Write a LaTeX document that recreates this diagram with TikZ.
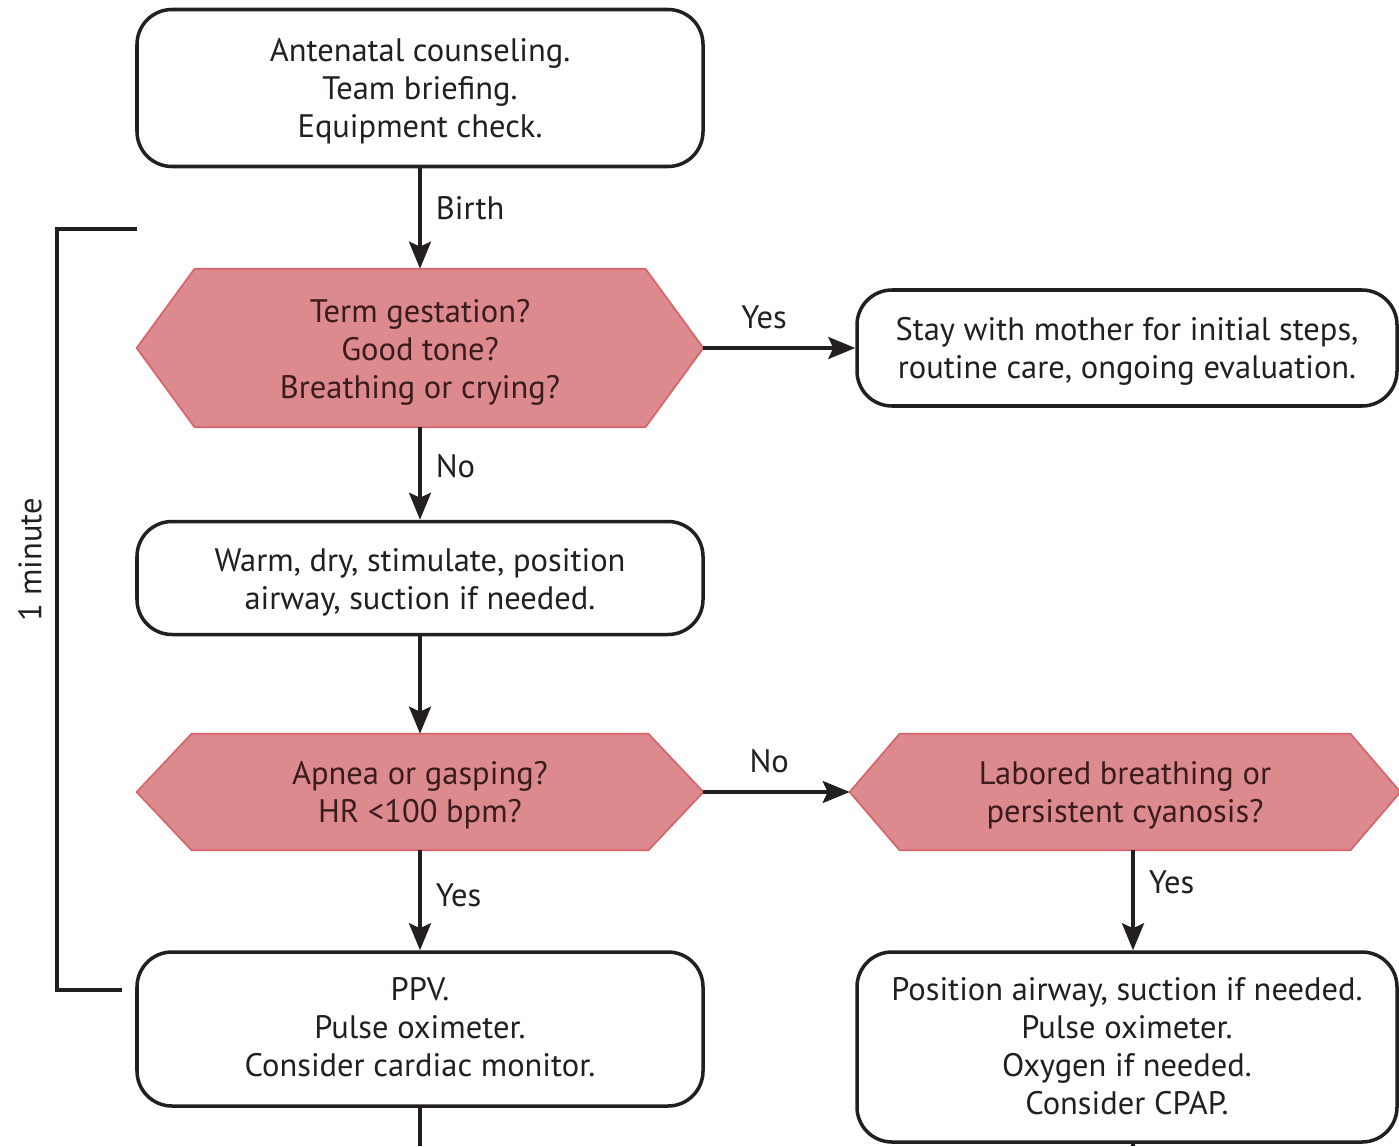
\documentclass[tikz,border=0pt]{standalone}
\usepackage{fontspec}
\setmainfont{PT Sans}
\usetikzlibrary{arrows.meta,calc,backgrounds}
\definecolor{hexfill}{HTML}{DC8A8E}
\definecolor{hexline}{HTML}{D4666C}
\definecolor{hextext}{HTML}{3A1C1E}
\definecolor{ink}{HTML}{231F20}
\newcommand{\lowtext}[2][0.07cm]{\raisebox{-#1}[\height][\depth]{\begin{tabular}{@{}c@{}}#2\end{tabular}}}
\tikzset{
  box/.style={draw=ink, line width=2pt, rounded corners=0.7cm, inner sep=0pt, text=ink, font=\fontsize{18.5}{21.6}\selectfont},
  hexnode/.style={inner sep=0pt, text=hextext, font=\fontsize{18.5}{21.6}\selectfont},
  hexshape/.style={fill=hexfill, draw=hexline, line width=1pt},
  conn/.style={draw=ink, line width=2pt, -{Stealth[length=0.54cm,width=0.44cm,inset=0.1cm]}},
  plain/.style={draw=ink, line width=2pt},
  lbl/.style={text=ink, font=\fontsize{18.5}{21.6}\selectfont, inner sep=0pt}
}
\newcommand{\hexdraw}[2]{%
  \begin{scope}[on background layer]
    \path[hexshape] (#1.west) -- ($(#1.north west)+(#2,0)$) -- ($(#1.north east)+(-#2,0)$) -- (#1.east) -- ($(#1.south east)+(-#2,0)$) -- ($(#1.south west)+(#2,0)$) -- cycle;
  \end{scope}}
\begin{document}
\begin{tikzpicture}[x=0.02cm,y=-0.02cm]
\useasboundingbox (0,0) rectangle (1399,1146);
\begin{scope}[on background layer]
\fill[white] (0,0) rectangle (1399,1146);
\end{scope}

\node[box, minimum width=566*0.02cm, minimum height=157*0.02cm] (b1) at (420,88) {\lowtext{Antenatal counseling.\\Team briefing.\\Equipment check.}};

\node[hexnode, minimum width=566*0.02cm, minimum height=158*0.02cm] (h1) at (420,348) {\lowtext[0.1cm]{Term gestation?\\Good tone?\\Breathing or crying?}};
\hexdraw{h1}{58}

\node[box, minimum width=540*0.02cm, minimum height=116*0.02cm] (b2) at (1127,348) {\lowtext{Stay with mother for initial steps,\\routine care, ongoing evaluation.}};

\node[box, minimum width=566*0.02cm, minimum height=113*0.02cm] (b3) at (420,578) {\lowtext[0.09cm]{Warm, dry, stimulate, position\\airway, suction if needed.}};

\node[hexnode, minimum width=566*0.02cm, minimum height=116*0.02cm] (h2) at (420,792) {\lowtext{Apnea or gasping?\\HR <100 bpm?}};
\hexdraw{h2}{55}

\node[hexnode, minimum width=550*0.02cm, minimum height=116*0.02cm] (h3) at (1125,792) {\lowtext{Labored breathing or\\persistent cyanosis?}};
\hexdraw{h3}{50}

\node[box, minimum width=566*0.02cm, minimum height=154*0.02cm] (b4) at (420,1029) {\lowtext[0.04cm]{PPV.\\Pulse oximeter.\\Consider cardiac monitor.}};

\node[box, minimum width=540*0.02cm, minimum height=190*0.02cm] (b5) at (1127,1047) {\lowtext[0.06cm]{Position airway, suction if needed.\\Pulse oximeter.\\Oxygen if needed.\\Consider CPAP.}};

% connectors
\draw[conn] (b1.south) -- (h1.north) node[lbl, pos=0.4, right=8pt] (lbirth) {Birth};
\draw[conn] (h1.east) -- (b2.west) node[lbl, pos=0.4, above=10pt] (lyes1) {Yes};
\draw[conn] (h1.south) -- (b3.north) node[lbl, pos=0.42, right=8pt] (lno1) {No};
\draw[conn] (b3.south) -- (h2.north);
\draw[conn] (h2.east) -- (h3.west) node[lbl, pos=0.45, above=10pt] (lno2) {No};
\draw[conn] (h2.south) -- (b4.north) node[lbl, pos=0.45, right=8pt] (lyes2) {Yes};
\draw[conn] (h3.south -| 1133,0) -- (b5.north -| 1133,0) node[lbl, pos=0.32, right=8pt] (lyes3) {Yes};

\coordinate (e1) at (420,1146);
\coordinate (e2) at (1133,1146);
\draw[plain] (b4.south) -- (e1);
\draw[plain] (b5.south -| e2) -- (e2);

% bracket
\coordinate (brA) at (137,229);
\coordinate (brB) at (122,990);
\draw[plain] (brA) -- (57,229) -- (57,990) -- (brB);
\node[lbl, rotate=90] (onemin) at (30,560) {1 minute};
\end{tikzpicture}
\end{document}
